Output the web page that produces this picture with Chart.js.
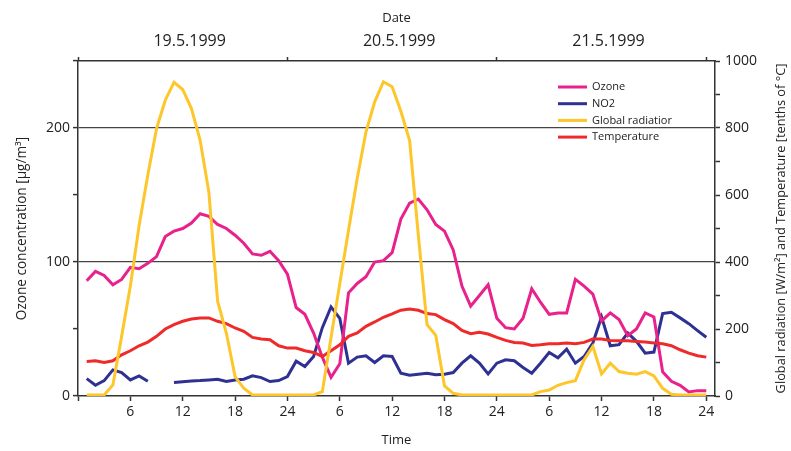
<!DOCTYPE html>
<html>
<head>
<meta charset="utf-8">
<script src="https://cdn.jsdelivr.net/npm/chart.js@4.4.1/dist/chart.umd.min.js"></script>
<style>
  html, body { margin: 0; padding: 0; background: #fff; }
  #wrap { width: 791px; height: 451px; }
</style>
</head>
<body>
<div id="wrap"><canvas id="airChart" width="791" height="451"></canvas></div>
<script>
// Hours since 19.5.1999 00:00
const hours = [1, 2, 3, 4, 5, 6, 7, 8, 9, 10, 11, 12, 13, 14, 15, 16, 17, 18, 19, 20, 21, 22, 23, 24,
    25, 26, 27, 28, 29, 30, 31, 32, 33, 34, 35, 36, 37, 38, 39, 40, 41, 42, 43, 44, 45, 46, 47, 48,
    49, 50, 51, 52, 53, 54, 55, 56, 57, 58, 59, 60, 61, 62, 63, 64, 65, 66, 67, 68, 69, 70, 71, 72];

const dates = ['19.5.1999', '20.5.1999', '21.5.1999'];
const dateTicks = [12.8, 36.8, 60.8];
const dayTicks = [0, 24, 48, 72];
const hourTicks = [0, 6, 12, 18, 24, 30, 36, 42, 48, 54, 60, 66, 72];

// µg/m3
const ozone = [86, 93, 90, 83, 87, 96, 95, 99, 104, 119, 123, 125, 129, 136, 134, 128, 125, 120, 114, 106, 105, 108, 101, 91,
    66, 61, 47, 29, 14, 24, 77, 84, 89, 100, 101, 107, 132, 144, 147, 139, 128, 123, 109, 82,
    67, 75, 83, 58, 51, 50, 58, 80, 70, 61, 62, 62, 87, 82, 76, 56, 62, 57, 45, 50, 62, 59, 18, 11, 8, 3, 4, 4];

const no2 = [13, 8, 11.5, 19.5, 17.5, 12, 15, 11, null, null, 10, 10.7, 11.2, 11.5, 12, 12.5, 10.8, 12, 12.5, 15, 13.7, 10.8, 11.5, 14.5,
    26, 22, 29.5, 51, 66.5, 58, 24.5, 29, 30, 25, 30, 29.5, 17, 15.5, 16.3, 17, 15.8, 16.3, 17.5, 24.5,
    30, 24.5, 16.5, 24.5, 27, 26.3, 21.3, 17, 24.5, 32.5, 28.5, 35, 24.5, 29.5, 39.5, 59, 37.5, 38.3, 47, 40.8, 32, 32.8, 61.5, 62.5, 58.3, 54, 48.8, 43.8];

// W/m2
const radiation = [3, 3, 3, 33, 178, 328, 508, 660, 798, 883, 936, 915, 858, 763, 608, 283, 188, 58, 23, 3, 3, 3, 3, 3,
    3, 3, 3, 13, 175, 335, 495, 650, 788, 878, 938, 923, 850, 763, 480, 213, 181, 30, 8, 3,
    3, 3, 3, 3, 3, 3, 3, 3, 13, 18, 32, 40, 46, 108, 148, 66, 98, 73, 68, 65, 73, 60, 23, 5, 3, 3, 3, 3];

// tenths of °C
const temperature = [103, 105, 100, 105, 123, 135, 150, 161, 178, 200, 213, 223, 230, 233, 233, 223, 216, 203, 193, 175, 170, 168, 150, 143,
    143, 135, 130, 118, 135, 153, 178, 188, 208, 221, 235, 245, 256, 260, 256, 246, 243, 228, 216, 196,
    186, 190, 185, 175, 166, 160, 158, 151, 153, 156, 156, 158, 156, 160, 170, 170, 166, 165, 165, 163, 161, 158, 156, 150, 138, 128, 120, 116];

const axisColor = '#333';
const fontFamily = "'Open Sans', 'Noto Sans', sans-serif";
const rightTitle = 'Global radiation [W/m²] and Temperature [tenths of °C]';

const toPoints = (values) => values.map((v, i) => ({ x: hours[i], y: v }));

const makeSet = (label, values, color, axis, order) => ({
    label: label,
    data: toPoints(values),
    borderColor: color,
    backgroundColor: color,
    borderWidth: 3,
    pointRadius: 0,
    tension: 0,
    spanGaps: false,
    yAxisID: axis,
    order: order
});

// Legend drawn inside the plot, top right
const insideLegend = {
    id: 'insideLegend',
    afterDraw(chart) {
        const { ctx, chartArea } = chart;
        const items = [
            ['Ozone', '#e8218c'],
            ['NO2', '#2e3192'],
            ['Global radiatior', '#fdc62b'],
            ['Temperature', '#ee2a2a']
        ];
        const x0 = chartArea.right - 157;
        let y = chartArea.top + 26;
        ctx.save();
        ctx.font = '11px ' + fontFamily;
        ctx.textBaseline = 'middle';
        items.forEach(([text, color]) => {
            ctx.strokeStyle = color;
            ctx.lineWidth = 3;
            ctx.beginPath();
            ctx.moveTo(x0, y);
            ctx.lineTo(x0 + 29, y);
            ctx.stroke();
            ctx.fillStyle = '#222';
            ctx.fillText(text, x0 + 34, y);
            y += 16.7;
        });
        ctx.restore();
    }
};

// Right axis title reads bottom to top, like the left one
const rightAxisTitle = {
    id: 'rightAxisTitle',
    afterDraw(chart) {
        const { ctx, chartArea } = chart;
        ctx.save();
        ctx.translate(chart.width - 10, (chartArea.top + chartArea.bottom) / 2);
        ctx.rotate(-Math.PI / 2);
        ctx.font = '12.8px ' + fontFamily;
        ctx.fillStyle = '#222';
        ctx.textAlign = 'center';
        ctx.textBaseline = 'middle';
        ctx.fillText(rightTitle, 0, 0);
        ctx.restore();
    }
};

const initAirChart = () => {
    const ctx = document.getElementById('airChart').getContext('2d');
    return new Chart(ctx, {
        type: 'line',
        data: {
            datasets: [
                makeSet('Ozone', ozone, '#e8218c', 'y', 2),
                makeSet('NO2', no2, '#2e3192', 'y', 3),
                makeSet('Global radiatior', radiation, '#fdc62b', 'y1', 0),
                makeSet('Temperature', temperature, '#ee2a2a', 'y1', 1)
            ]
        },
        options: {
            responsive: false,
            animation: false,
            layout: { padding: 0 },
            plugins: {
                legend: { display: false },
                tooltip: { enabled: false }
            },
            scales: {
                x: {
                    type: 'linear',
                    position: 'bottom',
                    min: 0,
                    max: 73,
                    afterBuildTicks: (scale) => { scale.ticks = hourTicks.map(v => ({ value: v })); },
                    afterFit: (scale) => { scale.height = 55; },
                    ticks: {
                        autoSkip: false,
                        maxRotation: 0,
                        padding: 3,
                        color: '#222',
                        font: { family: fontFamily, size: 14 },
                        callback: (v) => v === 0 ? '' : String((v - 1) % 24 + 1)
                    },
                    grid: { drawOnChartArea: false, tickLength: 5, tickColor: axisColor, tickWidth: 1.5 },
                    border: { color: axisColor, width: 1.5 },
                    title: {
                        display: true,
                        text: 'Time',
                        color: '#222',
                        font: { family: fontFamily, size: 13 },
                        padding: { top: 0, bottom: 3 }
                    }
                },
                x2: {
                    type: 'linear',
                    position: 'top',
                    min: 0,
                    max: 73,
                    afterBuildTicks: (scale) => {
                        scale.ticks = dayTicks.concat(dateTicks).sort((a, b) => a - b).map(v => ({ value: v }));
                    },
                    afterFit: (scale) => { scale.height = 61; },
                    ticks: {
                        autoSkip: false,
                        maxRotation: 0,
                        padding: 6,
                        color: '#222',
                        font: { family: fontFamily, size: 16 },
                        callback: (v) => dateTicks.includes(v) ? dates[dateTicks.indexOf(v)] : ''
                    },
                    grid: {
                        drawOnChartArea: false,
                        tickLength: 4,
                        tickWidth: 1.5,
                        tickColor: (c) => (c.tick && c.tick.value % 24 === 0) ? axisColor : 'rgba(0,0,0,0)'
                    },
                    border: { color: axisColor, width: 1.5 },
                    title: {
                        display: true,
                        text: 'Date',
                        color: '#222',
                        font: { family: fontFamily, size: 13 },
                        padding: { top: 10, bottom: 0 }
                    }
                },
                y: {
                    position: 'left',
                    min: 0,
                    max: 250,
                    afterFit: (scale) => { scale.width = 78; },
                    ticks: {
                        stepSize: 50,
                        autoSkip: false,
                        padding: 3,
                        color: '#222',
                        font: { family: fontFamily, size: 14 },
                        callback: (v) => v % 100 === 0 ? v : ''
                    },
                    grid: {
                        tickLength: 5,
                        tickWidth: 1.5,
                        tickColor: axisColor,
                        lineWidth: 1.2,
                        color: (c) => (c.tick && (c.tick.value === 100 || c.tick.value === 200)) ? '#444' : 'rgba(0,0,0,0)'
                    },
                    border: { color: axisColor, width: 1.5 },
                    title: {
                        display: true,
                        text: 'Ozone concentration [µg/m³]',
                        color: '#222',
                        font: { family: fontFamily, size: 13.6 },
                        padding: { top: 14, bottom: 0 }
                    }
                },
                y1: {
                    position: 'right',
                    min: 0,
                    max: 1000,
                    afterFit: (scale) => { scale.width = 76; },
                    ticks: {
                        stepSize: 100,
                        autoSkip: false,
                        padding: 5,
                        color: '#222',
                        font: { family: fontFamily, size: 14 },
                        callback: (v) => v % 200 === 0 ? v : ''
                    },
                    grid: { drawOnChartArea: false, tickLength: 5, tickWidth: 1.5, tickColor: axisColor },
                    border: { color: axisColor, width: 1.5 },
                    title: { display: false }
                }
            }
        },
        plugins: [insideLegend, rightAxisTitle]
    });
};

document.addEventListener('DOMContentLoaded', () => {
    initAirChart();
});
</script>
</body>
</html>
